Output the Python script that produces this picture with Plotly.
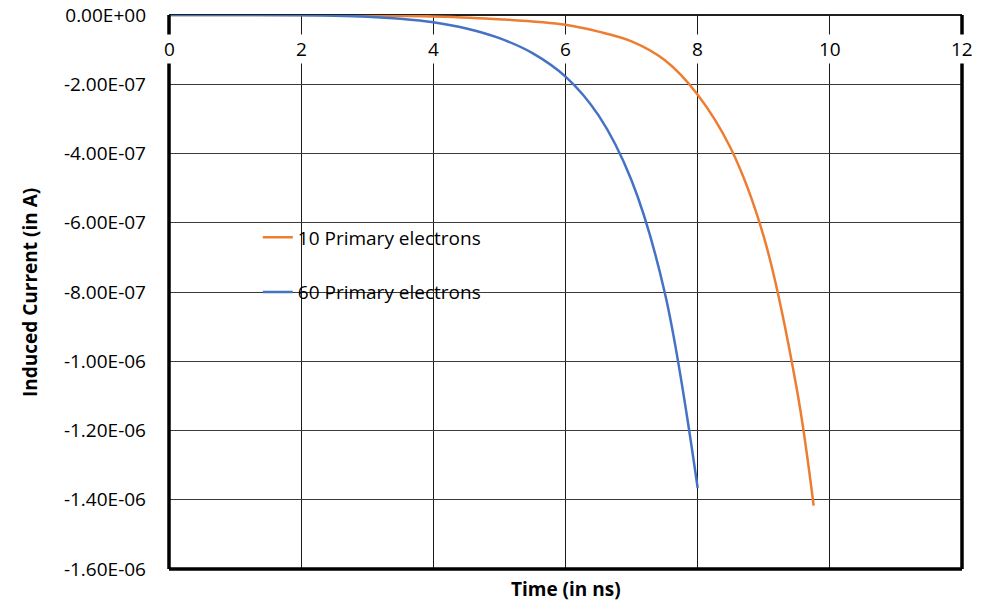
import plotly.graph_objects as go

# Data (time in ns, current in A)
t_10 = [0, 1, 2, 3, 4, 5, 6, 6.5, 7, 7.5, 8, 8.5, 9, 9.5, 9.755]
i_10 = [0, 0, 0, -0.01e-7, -0.04e-7, -0.12e-7, -0.28e-7, -0.48e-7, -0.76e-7, -1.3e-7,
        -2.3e-7, -3.85e-7, -6.4e-7, -10.8e-7, -14.17e-7]

t_60 = [0, 1, 2, 2.5, 3, 3.5, 4, 4.5, 5, 5.5, 6, 6.5, 7, 7.5, 8]
i_60 = [0, 0, -0.005e-7, -0.02e-7, -0.05e-7, -0.11e-7, -0.21e-7, -0.39e-7, -0.67e-7, -1.1e-7,
        -1.78e-7, -2.9e-7, -4.78e-7, -8.0e-7, -13.66e-7]

series_names = ["10 Primary electrons", "60 Primary electrons"]
x_ticks = [0, 2, 4, 6, 8, 10, 12]
x_tick_labels = ["0", "2", "4", "6", "8", "10", "12"]
y_ticks = [0, -2e-7, -4e-7, -6e-7, -8e-7, -1e-6, -1.2e-6, -1.4e-6, -1.6e-6]
y_tick_labels = ["0.00E+00", "-2.00E-07", "-4.00E-07", "-6.00E-07", "-8.00E-07",
                 "-1.00E-06", "-1.20E-06", "-1.40E-06", "-1.60E-06"]
x_title = "Time (in ns)"
y_title = "Induced Current (in A)"

FONT = "Open Sans"

fig = go.Figure()
fig.add_trace(go.Scatter(x=t_10, y=i_10, mode="lines", name=series_names[0],
                         line=dict(color="#ED7D31", width=2.5, shape="spline", smoothing=1),
                         legendgroup="a"))
fig.add_trace(go.Scatter(x=t_60, y=i_60, mode="lines", name=series_names[1],
                         line=dict(color="#4472C4", width=2.5, shape="spline", smoothing=1),
                         legendgroup="b"))

# Frame: thick left/bottom/right, thin top
frame = dict(type="line", xref="paper", yref="paper", line=dict(color="black", width=3.5), layer="above")
fig.add_shape(**frame, x0=0, x1=0, y0=0, y1=1)
fig.add_shape(**frame, x0=0, x1=1, y0=0, y1=0)
fig.add_shape(**frame, x0=1, x1=1, y0=0, y1=1)
fig.add_shape(type="line", xref="paper", yref="paper", x0=0, x1=1, y0=1, y1=1,
              line=dict(color="#202020", width=2), layer="below")

# x tick labels just below the zero line, on white background
for xv, lab in zip(x_ticks, x_tick_labels):
    fig.add_annotation(x=xv, xref="x", y=0.9386, yref="paper", text=lab, showarrow=False,
                       bgcolor="white", font=dict(family=FONT, size=19, color="black"),
                       xanchor="center", yanchor="middle", borderpad=1)

# axis titles
fig.add_annotation(x=0.5, xref="paper", y=-0.0361, yref="paper", text="<b>%s</b>" % x_title,
                   showarrow=False, font=dict(family=FONT, size=19, color="black"),
                   xanchor="center", yanchor="middle")
fig.add_annotation(x=-0.1753, xref="paper", y=0.5, yref="paper", text="<b>%s</b>" % y_title,
                   showarrow=False, textangle=-90, font=dict(family=FONT, size=19, color="black"),
                   xanchor="center", yanchor="middle")

fig.update_layout(
    width=992, height=604,
    margin=dict(l=169, r=30, t=15, b=35),
    paper_bgcolor="white", plot_bgcolor="white",
    font=dict(family=FONT, size=18, color="black"),
    showlegend=True,
    legend=dict(x=0.112, y=0.549, xanchor="left", yanchor="middle",
                bgcolor="rgba(0,0,0,0)", font=dict(family=FONT, size=19, color="black"),
                traceorder="grouped", tracegroupgap=27, itemwidth=30),
    xaxis=dict(range=[0, 12], tickvals=x_ticks, showticklabels=False, automargin=False,
               showgrid=True, gridcolor="#1a1a1a", gridwidth=1, zeroline=False, showline=False),
    yaxis=dict(range=[-1.6e-6, 0], tickvals=y_ticks, ticktext=y_tick_labels, automargin=False,
               showgrid=True, gridcolor="#3a3a3a", gridwidth=1, zeroline=False, showline=False,
               ticks="", ticklabelstandoff=22, tickfont=dict(family=FONT, size=19)),
)

# remove the browser's default 8px body margin so the figure fills the window exactly
fig.write_html("out.html", config={"displayModeBar": False},
               post_script="document.body.style.margin='0px';document.body.style.overflow='hidden';")
